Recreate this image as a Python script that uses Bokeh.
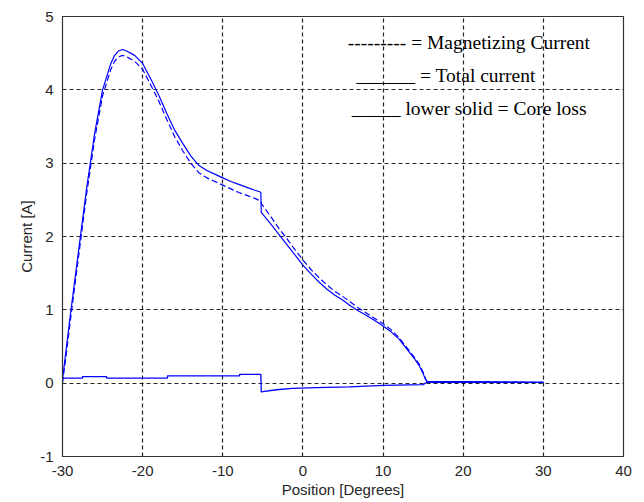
from bokeh.plotting import figure
from bokeh.models import Range1d, Label, FixedTicker, PrintfTickFormatter
from bokeh.embed import file_html
from bokeh.resources import INLINE

# Total current (solid)
total_x = [-30, -29.5, -29, -28, -27, -26, -25, -24, -23.5, -23, -22.5, -22, -21, -20, -19, -18,
           -17, -16, -15, -14, -13, -12, -11, -10, -9, -8, -7, -6, -5.4, -5.25, -5.2, -4, -3, -2,
           -1, 0, 1, 2, 3, 4, 5, 6, 7, 8, 9, 10, 11, 12, 13, 14, 14.5, 15, 15.3, 15.5, 20, 30]
total_y = [0.05, 0.5, 0.95, 1.8, 2.65, 3.4, 4.0, 4.35, 4.47, 4.53, 4.55, 4.53, 4.47, 4.36, 4.15, 3.93,
           3.68, 3.45, 3.27, 3.10, 2.97, 2.90, 2.85, 2.80, 2.75, 2.71, 2.67, 2.63, 2.61, 2.60, 2.33, 2.17, 2.03, 1.89,
           1.75, 1.61, 1.49, 1.38, 1.28, 1.20, 1.13, 1.05, 0.98, 0.92, 0.85, 0.78, 0.70, 0.60, 0.46, 0.32, 0.24, 0.13, 0.05, 0.02, 0.02, 0.01]

# Magnetizing current (dashed)
mag_x = [-30, -29.5, -29, -28, -27, -26, -25, -24, -23.5, -23, -22.5, -22, -21, -20, -19, -18,
         -17, -16, -15, -14, -13, -12, -11, -10, -9, -8, -7, -6, -5.4, -5.25, -5.2, -4, -3, -2,
         -1, 0, 1, 2, 3, 4, 5, 6, 7, 8, 9, 10, 11, 12, 13, 14, 14.5, 15, 15.3, 15.5, 20, 30]
mag_y = [0.0, 0.42, 0.87, 1.72, 2.57, 3.32, 3.92, 4.27, 4.39, 4.45, 4.47, 4.45, 4.39, 4.28, 4.07, 3.85,
         3.60, 3.36, 3.17, 3.00, 2.87, 2.80, 2.75, 2.70, 2.65, 2.60, 2.56, 2.52, 2.49, 2.48, 2.45, 2.27, 2.11, 1.97,
         1.82, 1.68, 1.55, 1.44, 1.34, 1.25, 1.18, 1.10, 1.02, 0.95, 0.88, 0.81, 0.73, 0.62, 0.48, 0.34, 0.26, 0.15, 0.06, 0.02, 0.02, 0.01]

# Core loss (lower solid)
core_x = [-30, -27.5, -27.5, -24.5, -24.5, -16.9, -16.9, -7.9, -7.9, -5.25, -5.2, -3.3, -1.3, 1.7,
          5.8, 10, 15, 15.4, 20, 30]
core_y = [0.07, 0.07, 0.09, 0.09, 0.07, 0.07, 0.10, 0.10, 0.12, 0.12, -0.12, -0.09, -0.07, -0.06,
          -0.05, -0.03, -0.02, 0.01, 0.01, 0.01]

x_ticks = [-30, -20, -10, 0, 10, 20, 30, 40]
y_ticks = [-1, 0, 1, 2, 3, 4, 5]

legend_lines = ["--------- = Magnetizing Current", "______ = Total current", "_____ lower solid = Core loss"]
legend_x = [5.6, 6.7, 6.1]
legend_y = [4.64, 4.19, 3.75]

p = figure(width=644, height=502, output_backend="svg", toolbar_location=None,
           x_range=Range1d(-30, 40), y_range=Range1d(-1, 5),
           min_border_left=62, min_border_right=21, min_border_top=16, min_border_bottom=46)
p.background_fill_color = "white"
p.border_fill_color = "white"
p.outline_line_color = "#333333"
p.outline_line_width = 1.2

p.line(total_x, total_y, line_color="#0000ff", line_width=1.2)
p.line(mag_x, mag_y, line_color="#0000ff", line_width=1.2, line_dash="6 3")
p.line(core_x, core_y, line_color="#0000ff", line_width=1.3)

p.xaxis.ticker = FixedTicker(ticks=x_ticks)
p.yaxis.ticker = FixedTicker(ticks=y_ticks)
for ax in (p.xaxis[0], p.yaxis[0]):
    ax.formatter = PrintfTickFormatter(format="%d")
    ax.major_tick_line_color = None
    ax.minor_tick_line_color = None
    ax.axis_line_color = "#333333"
    ax.major_label_text_font = "Liberation Sans"
    ax.major_label_text_font_size = "15px"
    ax.major_label_text_color = "#262626"
    ax.axis_label_text_font = "Liberation Sans"
    ax.axis_label_text_font_size = "15px"
    ax.axis_label_text_font_style = "normal"
    ax.axis_label_text_color = "#262626"
    ax.major_label_standoff = 3
    ax.axis_label_standoff = 2
p.xaxis.axis_label = "Position [Degrees]"
p.yaxis.axis_label = "Current [A]"

p.xgrid.ticker = FixedTicker(ticks=x_ticks)
p.ygrid.ticker = FixedTicker(ticks=y_ticks)
for g in (p.xgrid[0], p.ygrid[0]):
    g.grid_line_color = "black"
    g.grid_line_dash = "4 3"
    g.grid_line_width = 1.2
    g.grid_line_alpha = 0.85

for t, lx, ly in zip(legend_lines, legend_x, legend_y):
    p.add_layout(Label(x=lx, y=ly, text=t, text_font="Liberation Serif", text_font_size="19.5px",
                       text_color="black", text_baseline="middle", text_align="left"))

open("out.html", "w").write(file_html(p, INLINE))
